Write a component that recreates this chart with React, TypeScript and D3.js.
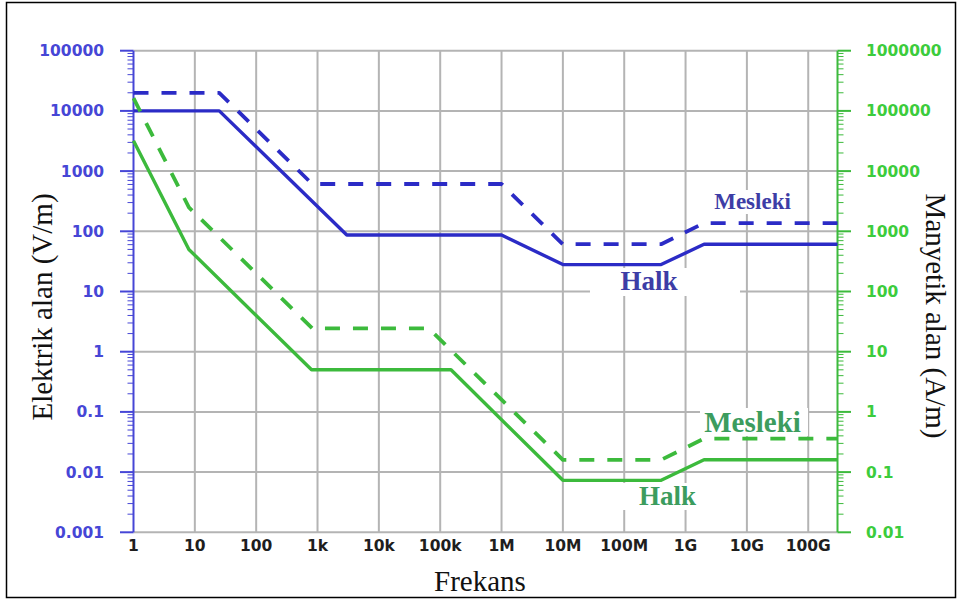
import React from "react";
import * as d3 from "d3";

// Frequency axis
const freqTicks = [1, 10, 100, 1e3, 1e4, 1e5, 1e6, 1e7, 1e8, 1e9, 1e10, 1e11];
const freqLabels = ["1", "10", "100", "1k", "10k", "100k", "1M", "10M", "100M", "1G", "10G", "100G"];

// Left axis: electric field (V/m)
const eTicks = [1e5, 1e4, 1e3, 100, 10, 1, 0.1, 0.01, 0.001];
const eLabels = ["100000", "10000", "1000", "100", "10", "1", "0.1", "0.01", "0.001"];

// Right axis: magnetic field (A/m)
const hTicks = [1e6, 1e5, 1e4, 1e3, 100, 10, 1, 0.1, 0.01];
const hLabels = ["1000000", "100000", "10000", "1000", "100", "10", "1", "0.1", "0.01"];

// Electric field limits — general public (Halk)
const eHalkFreq = [1, 25, 3000, 1e6, 1e7, 4e8, 2e9, 3e11];
const eHalkVal = [10000, 10000, 87, 87, 28, 28, 61, 61];

// Electric field limits — occupational (Mesleki)
const eMeslekiFreq = [1, 25, 820, 1e6, 1e7, 4e8, 2e9, 3e11];
const eMeslekiVal = [20000, 20000, 610, 610, 61, 61, 137, 137];

// Magnetic field limits — general public (Halk)
const hHalkFreq = [1, 8, 800, 150000, 1e7, 4e8, 2e9, 3e11];
const hHalkVal = [32000, 500, 5, 5, 0.073, 0.073, 0.16, 0.16];

// Magnetic field limits — occupational (Mesleki)
const hMeslekiFreq = [1, 8, 820, 65000, 1e7, 4e8, 2e9, 3e11];
const hMeslekiVal = [163000, 2500, 24.4, 24.4, 0.16, 0.16, 0.36, 0.36];

const W = 957;
const H = 601;
const X0 = 133.5;
const X1 = 837.5;
const YT = 50.7;
const YB = 532.3;

const BLUE = "#2b2bc6";
const BLUE_TXT = "#4646d6";
const BLUE_LBL = "#3d3da6";
const GREEN = "#3cba3c";
const GREEN_TXT = "#3ccc3c";
const GREEN_LBL = "#3c9c5e";
const GRID = "#b4b4b4";

export default function App() {
  const x = d3.scaleLog().domain([1, 3e11]).range([X0, X1]);
  const yE = d3.scaleLog().domain([0.001, 1e5]).range([YB, YT]);
  const yH = d3.scaleLog().domain([0.01, 1e6]).range([YB, YT]);

  const mk = (fs: number[], vs: number[], y: d3.ScaleLogarithmic<number, number>) =>
    d3.line<number>()
      .x((_, i) => x(fs[i]))
      .y((v) => y(v))(vs) || "";

  // minor ticks (2..9 within each decade)
  const minorE: number[] = [];
  for (let e = -3; e < 5; e++) for (let m = 2; m <= 9; m++) minorE.push(m * Math.pow(10, e));
  const minorH: number[] = [];
  for (let e = -2; e < 6; e++) for (let m = 2; m <= 9; m++) minorH.push(m * Math.pow(10, e));

  const sans = "'DejaVu Sans', Verdana, sans-serif";
  const serif = "'Liberation Serif', 'Times New Roman', serif";

  return (
    <svg width={W} height={H} style={{ position: "absolute", left: 0, top: 0, background: "#fff" }}>
      <rect x={0} y={0} width={W} height={H} fill="#fff" />
      <rect x={6.5} y={2.5} width={949} height={595} fill="none" stroke="#000" strokeWidth={1.5} />

      {/* grid */}
      <g stroke={GRID} strokeWidth={2}>
        {freqTicks.slice(1).map((f) => (
          <line key={"v" + f} x1={x(f)} x2={x(f)} y1={YT} y2={YB} />
        ))}
        {eTicks.map((v) => (
          <line key={"h" + v} x1={X0} x2={X1} y1={yE(v)} y2={yE(v)} />
        ))}
      </g>

      {/* label backgrounds */}
      <g fill="#fff">
        <rect x={704} y={190} width={98} height={24} />
        <rect x={590} y={268} width={150} height={28} />
        <rect x={700} y={408} width={108} height={28} />
        <rect x={600} y={483} width={108} height={27} />
      </g>

      {/* left axis */}
      <g stroke={BLUE_TXT} strokeWidth={2}>
        <line x1={X0} x2={X0} y1={YT} y2={YB} />
        {eTicks.map((v) => (
          <line key={"lt" + v} x1={120} x2={X0} y1={yE(v)} y2={yE(v)} />
        ))}
      </g>
      <g stroke={BLUE_TXT} strokeWidth={1}>
        {minorE.map((v) => (
          <line key={"lm" + v} x1={X0 - 6} x2={X0} y1={yE(v)} y2={yE(v)} />
        ))}
      </g>
      {eTicks.map((v, i) => (
        <text key={"ll" + v} x={104} y={yE(v) + 5.5} textAnchor="end" fontFamily={sans}
          fontWeight="bold" fontSize={15.5} fill={BLUE_TXT}>{eLabels[i]}</text>
      ))}

      {/* right axis */}
      <g stroke={GREEN} strokeWidth={2}>
        <line x1={X1} x2={X1} y1={YT} y2={YB} />
        {hTicks.map((v) => (
          <line key={"rt" + v} x1={X1} x2={851} y1={yH(v)} y2={yH(v)} />
        ))}
      </g>
      <g stroke={GREEN} strokeWidth={1}>
        {minorH.map((v) => (
          <line key={"rm" + v} x1={X1} x2={X1 + 6} y1={yH(v)} y2={yH(v)} />
        ))}
      </g>
      {hTicks.map((v, i) => (
        <text key={"rl" + v} x={866} y={yH(v) + 5.5} textAnchor="start" fontFamily={sans}
          fontWeight="bold" fontSize={15.5} fill={GREEN_TXT}>{hLabels[i]}</text>
      ))}

      {/* bottom axis labels */}
      {freqTicks.map((f, i) => (
        <text key={"xl" + f} x={x(f)} y={551} textAnchor="middle" fontFamily={sans}
          fontWeight="bold" fontSize={15.5} fill="#1e1e1e">{freqLabels[i]}</text>
      ))}

      {/* limit curves */}
      <g fill="none" strokeLinejoin="round">
        <path d={mk(eHalkFreq, eHalkVal, yE)} stroke={BLUE} strokeWidth={3.4} />
        <path d={mk(eMeslekiFreq, eMeslekiVal, yE)} stroke={BLUE} strokeWidth={3.8} strokeDasharray="15 13" />
        <path d={mk(hHalkFreq, hHalkVal, yH)} stroke={GREEN} strokeWidth={3.4} />
        <path d={mk(hMeslekiFreq, hMeslekiVal, yH)} stroke={GREEN} strokeWidth={3.8} strokeDasharray="15 13" />
      </g>

      {/* curve labels */}
      <g fontFamily={serif} fontWeight="bold" textAnchor="middle">
        <text x={752.5} y={209} fontSize={23} fill={BLUE_LBL}>Mesleki</text>
        <text x={649} y={290} fontSize={27} fill={BLUE_LBL}>Halk</text>
        <text x={752.5} y={432} fontSize={29} fill={GREEN_LBL}>Mesleki</text>
        <text x={667.5} y={505} fontSize={27} fill={GREEN_LBL}>Halk</text>
      </g>

      {/* axis titles */}
      <text x={480} y={591} textAnchor="middle" fontFamily={serif} fontSize={29} fill="#111">Frekans</text>
      <text transform="translate(52,307) rotate(-90)" textAnchor="middle" fontFamily={serif}
        fontSize={29} fill="#111">Elektrik alan (V/m)</text>
      <text transform="translate(926,316) rotate(90)" textAnchor="middle" fontFamily={serif}
        fontSize={29} fill="#111">Manyetik alan (A/m)</text>
    </svg>
  );
}
